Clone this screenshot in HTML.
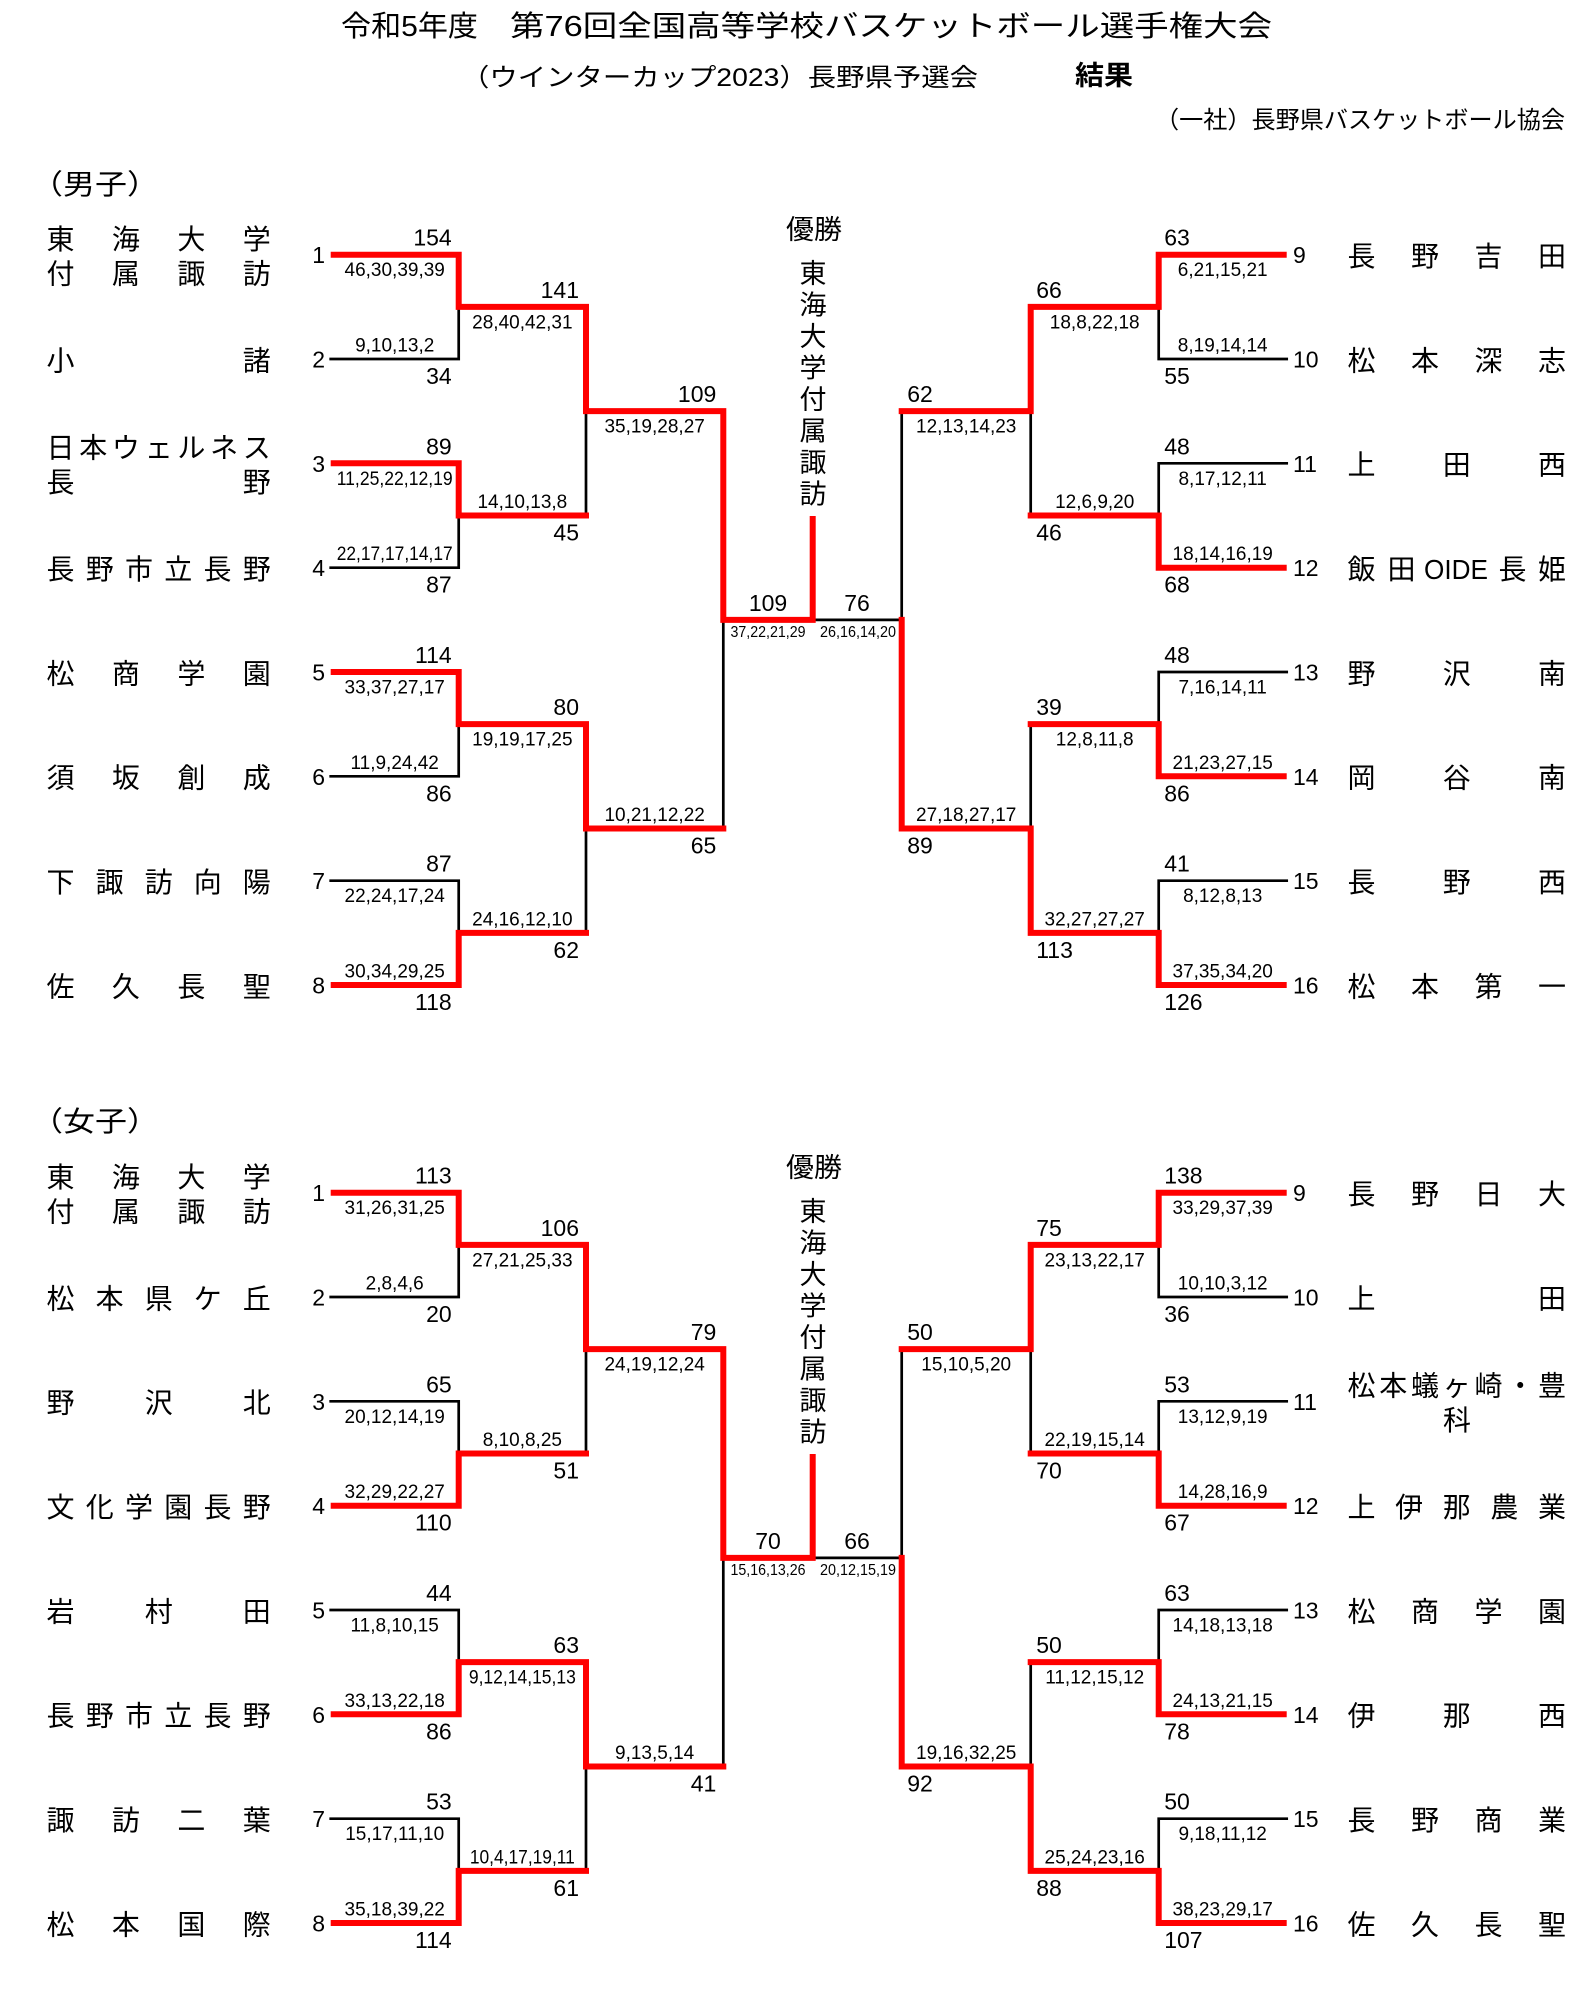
<!DOCTYPE html>
<html><head><meta charset="utf-8">
<style>
html,body{margin:0;padding:0;background:#fff;}
svg{display:block;}
text{font-family:"Liberation Sans","Noto Sans CJK JP",sans-serif;fill:#000;}
.s{font-size:23px;}
.q{font-size:19px;}
.f{font-size:16px;}
.nm{font-size:28px;}
.vt{font-size:27px;}
.e{text-anchor:end;}
.m{text-anchor:middle;}
.blk{fill:none;stroke:#000;stroke-width:2.7;stroke-linecap:square;}
.red{fill:none;stroke:#ff0000;stroke-width:6;stroke-linecap:square;stroke-linejoin:miter;}
</style></head>
<body>
<svg width="1576" height="2000" viewBox="0 0 1576 2000" xmlns="http://www.w3.org/2000/svg">
<rect x="0" y="0" width="1576" height="2000" fill="#fff"/>

<!-- Header -->
<text x="341" y="36" font-size="29" textLength="137" lengthAdjust="spacingAndGlyphs">令和5年度</text>
<text x="510" y="36" font-size="29" textLength="762" lengthAdjust="spacingAndGlyphs">第76回全国高等学校バスケットボール選手権大会</text>
<text x="461" y="86" font-size="25" textLength="517" lengthAdjust="spacingAndGlyphs">（ウインターカップ2023）長野県予選会</text>
<text x="1075" y="85" font-size="27" font-weight="bold" textLength="58" lengthAdjust="spacingAndGlyphs">結果</text>
<text x="1155" y="128" font-size="24" textLength="410" lengthAdjust="spacingAndGlyphs">（一社）長野県バスケットボール協会</text>

<text x="31" y="194" font-size="28" textLength="128" lengthAdjust="spacingAndGlyphs">（男子）</text>
<text x="31" y="1131" font-size="28" textLength="128" lengthAdjust="spacingAndGlyphs">（女子）</text>

<!-- ================= MALE LINES ================= -->
<path class="blk" d="M330.7 359H458.7 M330.7 567.7H458.7 M330.7 776.3H458.7 M330.7 880.7H458.7
M458.7 306.85V359 M458.7 515.5V567.7 M458.7 724.15V776.3 M458.7 880.7V932.85
M586 411.175V515.5 M586 828.5V932.85 M723.3 619.84V828.5 M812.7 619.84H901.7
M1158.7 359H1286.7 M1158.7 463.3H1286.7 M1158.7 672H1286.7 M1158.7 880.7H1286.7
M1158.7 306.85V359 M1158.7 463.3V515.5 M1158.7 672V724.15 M1158.7 880.7V932.85
M1030.7 411.175V515.5 M1030.7 724.15V828.5 M901.7 411.175V619.84"/>
<path class="red" d="M333.7 254.7H458.7V306.85H586V411.175H723.3V619.84H812.7V519"/>
<path class="red" d="M333.7 463.3H458.7V515.5H586"/>
<path class="red" d="M333.7 672H458.7V724.15H586V828.5H723.3"/>
<path class="red" d="M333.7 985H458.7V932.85H586"/>
<path class="red" d="M1283.7 254.7H1158.7V306.85H1030.7V411.175H901.7"/>
<path class="red" d="M1283.7 567.7H1158.7V515.5H1030.7"/>
<path class="red" d="M1283.7 776.3H1158.7V724.15H1030.7"/>
<path class="red" d="M1283.7 985H1158.7V932.85H1030.7V828.5H901.7V619.84"/>

<!-- ================= FEMALE LINES ================= -->
<path class="blk" d="M330.7 1297H458.7 M330.7 1401.3H458.7 M330.7 1610H458.7 M330.7 1818.7H458.7
M458.7 1244.85V1297 M458.7 1401.3V1453.5 M458.7 1610V1662.15 M458.7 1818.7V1870.85
M586 1349.175V1453.5 M586 1766.5V1870.85 M723.3 1557.84V1766.5 M812.7 1557.84H901.7
M1158.7 1297H1286.7 M1158.7 1401.3H1286.7 M1158.7 1610H1286.7 M1158.7 1818.7H1286.7
M1158.7 1244.85V1297 M1158.7 1401.3V1453.5 M1158.7 1610V1662.15 M1158.7 1818.7V1870.85
M1030.7 1349.175V1453.5 M1030.7 1662.15V1766.5 M901.7 1349.175V1557.84"/>
<path class="red" d="M333.7 1192.7H458.7V1244.85H586V1349.175H723.3V1557.84H812.7V1457"/>
<path class="red" d="M333.7 1505.7H458.7V1453.5H586"/>
<path class="red" d="M333.7 1714.3H458.7V1662.15H586V1766.5H723.3"/>
<path class="red" d="M333.7 1923H458.7V1870.85H586"/>
<path class="red" d="M1283.7 1192.7H1158.7V1244.85H1030.7V1349.175H901.7"/>
<path class="red" d="M1283.7 1505.7H1158.7V1453.5H1030.7"/>
<path class="red" d="M1283.7 1714.3H1158.7V1662.15H1030.7"/>
<path class="red" d="M1283.7 1923H1158.7V1870.85H1030.7V1766.5H901.7V1557.84"/>

<!-- ================= MALE TEXT ================= -->
<text class="s e" x="325" y="263.2">1</text>
<text class="s e" x="325" y="367.5">2</text>
<text class="s e" x="325" y="471.8">3</text>
<text class="s e" x="325" y="576.2">4</text>
<text class="s e" x="325" y="680.5">5</text>
<text class="s e" x="325" y="784.8">6</text>
<text class="s e" x="325" y="889.2">7</text>
<text class="s e" x="325" y="993.5">8</text>
<text class="s" x="1293" y="263.2">9</text>
<text class="s" x="1293" y="367.5">10</text>
<text class="s" x="1293" y="471.8">11</text>
<text class="s" x="1293" y="576.2">12</text>
<text class="s" x="1293" y="680.5">13</text>
<text class="s" x="1293" y="784.8">14</text>
<text class="s" x="1293" y="889.2">15</text>
<text class="s" x="1293" y="993.5">16</text>

<!-- names left -->
<text class="nm" x="46.5 111.9 177.4 242.8" y="249">東海大学</text>
<text class="nm" x="46.5 111.9 177.4 242.8" y="283.5">付属諏訪</text>
<text class="nm" x="46.5 242.8" y="370.3">小諸</text>
<text class="nm" x="46.5 79.2 111.9 144.7 177.4 210.1 242.8" y="457.6">日本ウェルネス</text>
<text class="nm" x="46.5 242.8" y="492.1">長野</text>
<text class="nm" x="46.5 85.8 125 164.3 203.5 242.8" y="579">長野市立長野</text>
<text class="nm" x="46.5 111.9 177.4 242.8" y="683.3">松商学園</text>
<text class="nm" x="46.5 111.9 177.4 242.8" y="787.6">須坂創成</text>
<text class="nm" x="46.5 95.6 144.7 193.7 242.8" y="892">下諏訪向陽</text>
<text class="nm" x="46.5 111.9 177.4 242.8" y="996.3">佐久長聖</text>
<!-- names right -->
<text class="nm" x="1347.5 1411 1474.5 1538" y="266">長野吉田</text>
<text class="nm" x="1347.5 1411 1474.5 1538" y="370.3">松本深志</text>
<text class="nm" x="1347.5 1442.8 1538" y="474.6">上田西</text>
<text class="nm" x="1347.5 1387.5" y="579">飯田</text>
<text class="nm" x="1424" y="579" textLength="64" lengthAdjust="spacingAndGlyphs">OIDE</text>
<text class="nm" x="1498.5 1538" y="579">長姫</text>
<text class="nm" x="1347.5 1442.8 1538" y="683.3">野沢南</text>
<text class="nm" x="1347.5 1442.8 1538" y="787.6">岡谷南</text>
<text class="nm" x="1347.5 1442.8 1538" y="892">長野西</text>
<text class="nm" x="1347.5 1411 1474.5 1538" y="996.3">松本第一</text>

<!-- champion male -->
<text class="vt m" x="814" y="239" textLength="56" lengthAdjust="spacingAndGlyphs">優勝</text>
<text class="vt m" x="813 813 813 813 813 813 813 813" y="283 314.5 346 377.5 409 440.5 472 503.5">東海大学付属諏訪</text>

<!-- left R1 -->
<text class="s e" x="451.7" y="245.7">154</text>
<text class="q m" x="394.7" y="276.2">46,30,39,39</text>
<text class="q m" x="394.7" y="351.5">9,10,13,2</text>
<text class="s e" x="451.7" y="384">34</text>
<text class="s e" x="451.7" y="454.3">89</text>
<text class="q m" x="394.7" y="484.8" textLength="116" lengthAdjust="spacingAndGlyphs">11,25,22,12,19</text>
<text class="q m" x="394.7" y="560.2" textLength="116" lengthAdjust="spacingAndGlyphs">22,17,17,14,17</text>
<text class="s e" x="451.7" y="592.7">87</text>
<text class="s e" x="451.7" y="663">114</text>
<text class="q m" x="394.7" y="693.5">33,37,27,17</text>
<text class="q m" x="394.7" y="768.8">11,9,24,42</text>
<text class="s e" x="451.7" y="801.3">86</text>
<text class="s e" x="451.7" y="871.7">87</text>
<text class="q m" x="394.7" y="902.2">22,24,17,24</text>
<text class="q m" x="394.7" y="977.5">30,34,29,25</text>
<text class="s e" x="451.7" y="1010">118</text>
<!-- left R2 -->
<text class="s e" x="579" y="297.85">141</text>
<text class="q m" x="522.35" y="328.35">28,40,42,31</text>
<text class="q m" x="522.35" y="508">14,10,13,8</text>
<text class="s e" x="579" y="540.5">45</text>
<text class="s e" x="579" y="715.15">80</text>
<text class="q m" x="522.35" y="745.65">19,19,17,25</text>
<text class="q m" x="522.35" y="925.35">24,16,12,10</text>
<text class="s e" x="579" y="957.85">62</text>
<!-- left R3 -->
<text class="s e" x="716.3" y="402.2">109</text>
<text class="q m" x="654.65" y="432.7">35,19,28,27</text>
<text class="q m" x="654.65" y="821">10,21,12,22</text>
<text class="s e" x="716.3" y="853.5">65</text>
<!-- final -->
<text class="s m" x="768" y="610.8">109</text>
<text class="f m" x="768" y="636.8" textLength="75" lengthAdjust="spacingAndGlyphs">37,22,21,29</text>
<text class="s m" x="857" y="610.8">76</text>
<text class="f m" x="858" y="636.8" textLength="76" lengthAdjust="spacingAndGlyphs">26,16,14,20</text>
<!-- right R1 -->
<text class="s" x="1164.2" y="245.7">63</text>
<text class="q m" x="1222.7" y="276.2">6,21,15,21</text>
<text class="q m" x="1222.7" y="351.5">8,19,14,14</text>
<text class="s" x="1164.2" y="384">55</text>
<text class="s" x="1164.2" y="454.3">48</text>
<text class="q m" x="1222.7" y="484.8">8,17,12,11</text>
<text class="q m" x="1222.7" y="560.2">18,14,16,19</text>
<text class="s" x="1164.2" y="592.7">68</text>
<text class="s" x="1164.2" y="663">48</text>
<text class="q m" x="1222.7" y="693.5">7,16,14,11</text>
<text class="q m" x="1222.7" y="768.8">21,23,27,15</text>
<text class="s" x="1164.2" y="801.3">86</text>
<text class="s" x="1164.2" y="871.7">41</text>
<text class="q m" x="1222.7" y="902.2">8,12,8,13</text>
<text class="q m" x="1222.7" y="977.5">37,35,34,20</text>
<text class="s" x="1164.2" y="1010">126</text>
<!-- right R2 -->
<text class="s" x="1036.2" y="297.85">66</text>
<text class="q m" x="1094.7" y="328.35">18,8,22,18</text>
<text class="q m" x="1094.7" y="508">12,6,9,20</text>
<text class="s" x="1036.2" y="540.5">46</text>
<text class="s" x="1036.2" y="715.15">39</text>
<text class="q m" x="1094.7" y="745.65">12,8,11,8</text>
<text class="q m" x="1094.7" y="925.35">32,27,27,27</text>
<text class="s" x="1036.2" y="957.85">113</text>
<!-- right R3 -->
<text class="s" x="907.2" y="402.2">62</text>
<text class="q m" x="966.2" y="432.7">12,13,14,23</text>
<text class="q m" x="966.2" y="821">27,18,27,17</text>
<text class="s" x="907.2" y="853.5">89</text>

<!-- ================= FEMALE TEXT ================= -->
<text class="s e" x="325" y="1201.2">1</text>
<text class="s e" x="325" y="1305.5">2</text>
<text class="s e" x="325" y="1409.8">3</text>
<text class="s e" x="325" y="1514.2">4</text>
<text class="s e" x="325" y="1618.5">5</text>
<text class="s e" x="325" y="1722.8">6</text>
<text class="s e" x="325" y="1827.2">7</text>
<text class="s e" x="325" y="1931.5">8</text>
<text class="s" x="1293" y="1201.2">9</text>
<text class="s" x="1293" y="1305.5">10</text>
<text class="s" x="1293" y="1409.8">11</text>
<text class="s" x="1293" y="1514.2">12</text>
<text class="s" x="1293" y="1618.5">13</text>
<text class="s" x="1293" y="1722.8">14</text>
<text class="s" x="1293" y="1827.2">15</text>
<text class="s" x="1293" y="1931.5">16</text>

<!-- names left female -->
<text class="nm" x="46.5 111.9 177.4 242.8" y="1187">東海大学</text>
<text class="nm" x="46.5 111.9 177.4 242.8" y="1221.5">付属諏訪</text>
<text class="nm" x="46.5 95.6 144.7 193.7 242.8" y="1308.3">松本県ケ丘</text>
<text class="nm" x="46.5 144.7 242.8" y="1412.6">野沢北</text>
<text class="nm" x="46.5 85.8 125 164.3 203.5 242.8" y="1517">文化学園長野</text>
<text class="nm" x="46.5 144.7 242.8" y="1621.3">岩村田</text>
<text class="nm" x="46.5 85.8 125 164.3 203.5 242.8" y="1725.6">長野市立長野</text>
<text class="nm" x="46.5 111.9 177.4 242.8" y="1830">諏訪二葉</text>
<text class="nm" x="46.5 111.9 177.4 242.8" y="1934.3">松本国際</text>
<!-- names right female -->
<text class="nm" x="1347.5 1411 1474.5 1538" y="1204">長野日大</text>
<text class="nm" x="1347.5 1538" y="1308.3">上田</text>
<text class="nm" x="1347.5 1379.25 1411 1442.8 1474.5 1506.25 1538" y="1395.6">松本蟻ヶ崎・豊</text>
<text class="nm" x="1443" y="1430.1">科</text>
<text class="nm" x="1347.5 1395.1 1442.8 1490.4 1538" y="1517">上伊那農業</text>
<text class="nm" x="1347.5 1411 1474.5 1538" y="1621.3">松商学園</text>
<text class="nm" x="1347.5 1442.8 1538" y="1725.6">伊那西</text>
<text class="nm" x="1347.5 1411 1474.5 1538" y="1830">長野商業</text>
<text class="nm" x="1347.5 1411 1474.5 1538" y="1934.3">佐久長聖</text>

<!-- champion female -->
<text class="vt m" x="814" y="1177" textLength="56" lengthAdjust="spacingAndGlyphs">優勝</text>
<text class="vt m" x="813 813 813 813 813 813 813 813" y="1221 1252.5 1284 1315.5 1347 1378.5 1410 1441.5">東海大学付属諏訪</text>

<!-- left R1 female -->
<text class="s e" x="451.7" y="1183.7">113</text>
<text class="q m" x="394.7" y="1214.2">31,26,31,25</text>
<text class="q m" x="394.7" y="1289.5">2,8,4,6</text>
<text class="s e" x="451.7" y="1322">20</text>
<text class="s e" x="451.7" y="1392.3">65</text>
<text class="q m" x="394.7" y="1422.8">20,12,14,19</text>
<text class="q m" x="394.7" y="1498.2">32,29,22,27</text>
<text class="s e" x="451.7" y="1530.7">110</text>
<text class="s e" x="451.7" y="1601">44</text>
<text class="q m" x="394.7" y="1631.5">11,8,10,15</text>
<text class="q m" x="394.7" y="1706.8">33,13,22,18</text>
<text class="s e" x="451.7" y="1739.3">86</text>
<text class="s e" x="451.7" y="1809.7">53</text>
<text class="q m" x="394.7" y="1840.2">15,17,11,10</text>
<text class="q m" x="394.7" y="1915.5">35,18,39,22</text>
<text class="s e" x="451.7" y="1948">114</text>
<!-- left R2 female -->
<text class="s e" x="579" y="1235.85">106</text>
<text class="q m" x="522.35" y="1266.35">27,21,25,33</text>
<text class="q m" x="522.35" y="1446">8,10,8,25</text>
<text class="s e" x="579" y="1478.5">51</text>
<text class="s e" x="579" y="1653.15">63</text>
<text class="q m" x="522.35" y="1683.65" textLength="107" lengthAdjust="spacingAndGlyphs">9,12,14,15,13</text>
<text class="q m" x="522.35" y="1863.35" textLength="105" lengthAdjust="spacingAndGlyphs">10,4,17,19,11</text>
<text class="s e" x="579" y="1895.85">61</text>
<!-- left R3 female -->
<text class="s e" x="716.3" y="1340.2">79</text>
<text class="q m" x="654.65" y="1370.7">24,19,12,24</text>
<text class="q m" x="654.65" y="1759">9,13,5,14</text>
<text class="s e" x="716.3" y="1791.5">41</text>
<!-- final female -->
<text class="s m" x="768" y="1548.8">70</text>
<text class="f m" x="768" y="1574.8" textLength="75" lengthAdjust="spacingAndGlyphs">15,16,13,26</text>
<text class="s m" x="857" y="1548.8">66</text>
<text class="f m" x="858" y="1574.8" textLength="76" lengthAdjust="spacingAndGlyphs">20,12,15,19</text>
<!-- right R1 female -->
<text class="s" x="1164.2" y="1183.7">138</text>
<text class="q m" x="1222.7" y="1214.2">33,29,37,39</text>
<text class="q m" x="1222.7" y="1289.5">10,10,3,12</text>
<text class="s" x="1164.2" y="1322">36</text>
<text class="s" x="1164.2" y="1392.3">53</text>
<text class="q m" x="1222.7" y="1422.8">13,12,9,19</text>
<text class="q m" x="1222.7" y="1498.2">14,28,16,9</text>
<text class="s" x="1164.2" y="1530.7">67</text>
<text class="s" x="1164.2" y="1601">63</text>
<text class="q m" x="1222.7" y="1631.5">14,18,13,18</text>
<text class="q m" x="1222.7" y="1706.8">24,13,21,15</text>
<text class="s" x="1164.2" y="1739.3">78</text>
<text class="s" x="1164.2" y="1809.7">50</text>
<text class="q m" x="1222.7" y="1840.2">9,18,11,12</text>
<text class="q m" x="1222.7" y="1915.5">38,23,29,17</text>
<text class="s" x="1164.2" y="1948">107</text>
<!-- right R2 female -->
<text class="s" x="1036.2" y="1235.85">75</text>
<text class="q m" x="1094.7" y="1266.35">23,13,22,17</text>
<text class="q m" x="1094.7" y="1446">22,19,15,14</text>
<text class="s" x="1036.2" y="1478.5">70</text>
<text class="s" x="1036.2" y="1653.15">50</text>
<text class="q m" x="1094.7" y="1683.65">11,12,15,12</text>
<text class="q m" x="1094.7" y="1863.35">25,24,23,16</text>
<text class="s" x="1036.2" y="1895.85">88</text>
<!-- right R3 female -->
<text class="s" x="907.2" y="1340.2">50</text>
<text class="q m" x="966.2" y="1370.7">15,10,5,20</text>
<text class="q m" x="966.2" y="1759">19,16,32,25</text>
<text class="s" x="907.2" y="1791.5">92</text>
</svg>
</body></html>
